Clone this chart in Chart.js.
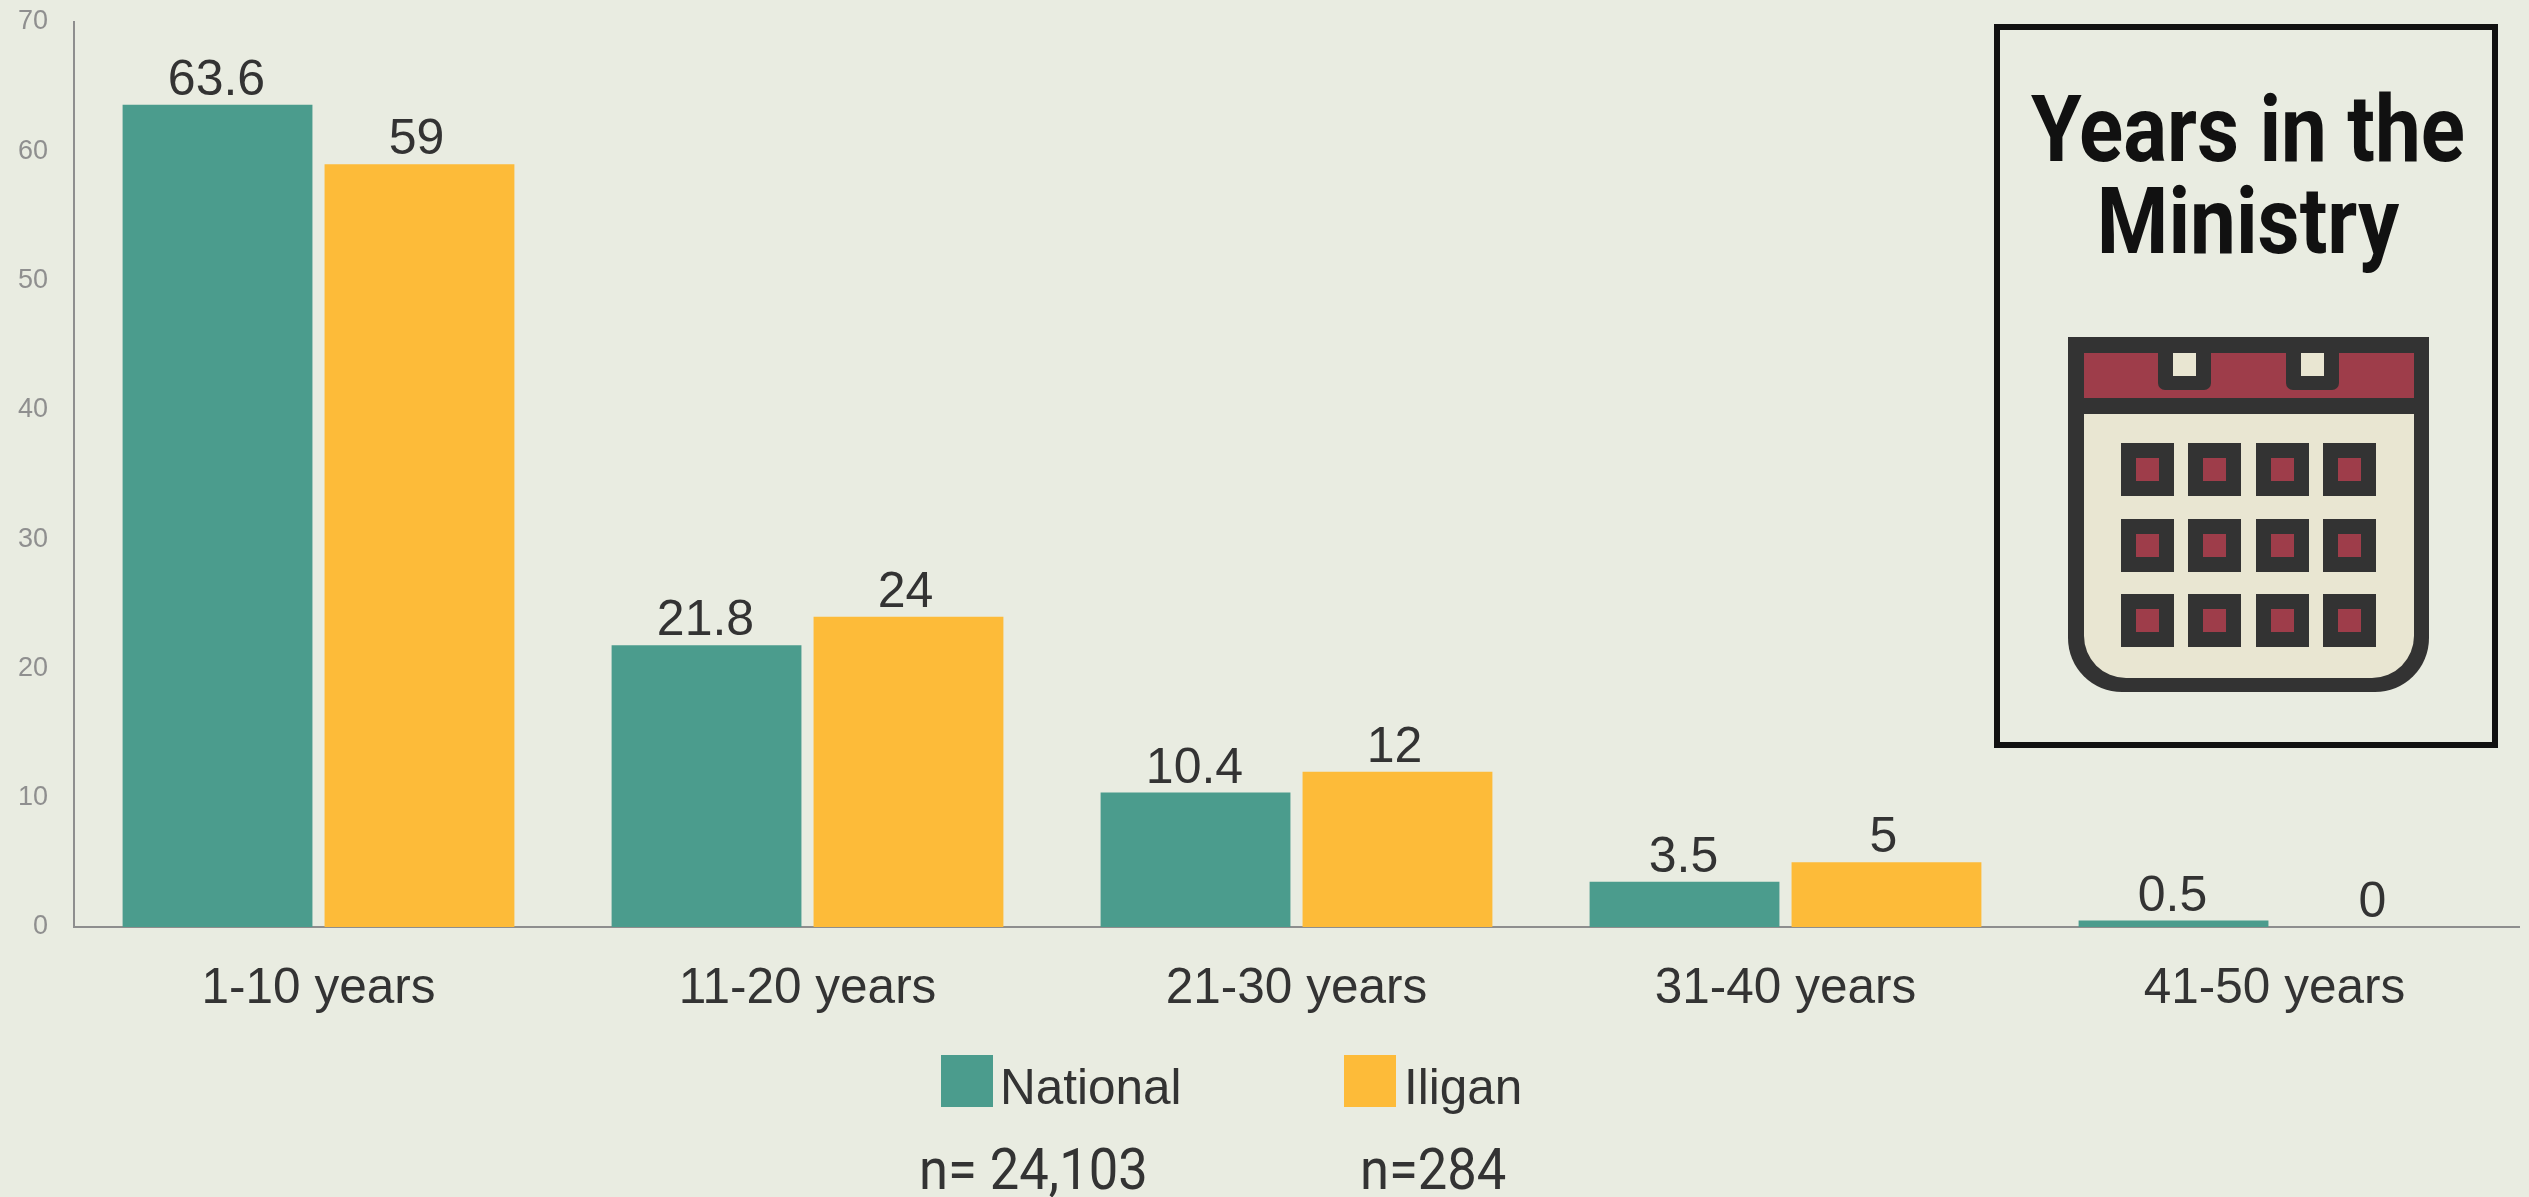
<!DOCTYPE html>
<html>
<head>
<meta charset="utf-8">
<title>Years in the Ministry</title>
<script src="https://cdn.jsdelivr.net/npm/chart.js@4/dist/chart.umd.min.js"></script>
<style>
    html, body { margin: 0; padding: 0; background: #e9ece1; overflow: hidden; }
    #page { position: relative; width: 2529px; height: 1197px; background: #e9ece1; }
    #chart { position: absolute; left: 0; top: 0; }
    .swatch { position: absolute; top: 1055px; width: 52px; height: 52px; }
    .legend-text, .count-text, .title-line { position: absolute; white-space: nowrap; line-height: 1; }
    .legend-text { top: 1062px; font: 49.5px/1 "Liberation Sans", Arial, sans-serif; color: #333; }
    .count-text { top: 1140px; font: 58px/1 Roboto, sans-serif; color: #333; transform-origin: left top; transform: scaleX(0.905); }
    #panel { position: absolute; left: 1994px; top: 24px; width: 492px; height: 712px; border: 6px solid #111; }
    .title-line { left: 1996px; width: 504px; text-align: center; font: bold 93px/1 Roboto, sans-serif; color: #111; transform: scaleX(0.88); }
    #calendar { position: absolute; left: 0; top: 0; }
</style>
</head>
<body>
<div id="page">
    <canvas id="chart" width="2529" height="1197"></canvas>
    <div id="panel"></div>
    <div class="title-line" style="top: 83px">Years in the</div>
    <div class="title-line" style="top: 175px">Ministry</div>
    <svg id="calendar" width="2529" height="1197" xmlns="http://www.w3.org/2000/svg"></svg>
</div>

<script>
// Chart data
const categories = ['1-10 years', '11-20 years', '21-30 years', '31-40 years', '41-50 years'];
const seriesNames = ['National', 'Iligan'];
const nationalValues = [63.6, 21.8, 10.4, 3.5, 0.5];
const iliganValues = [59, 24, 12, 5, 0];
const sampleSizes = ['n= 24,103', 'n=284'];
const yMax = 70;
const yStep = 10;

const tealColor = '#4b9c8d';
const yellowColor = '#fdbb39';
const textColor = '#333333';
const axisColor = '#8e8e8e';

// Writes the value above every bar
const valueLabels = {
    id: 'valueLabels',
    afterDatasetsDraw(chart) {
        const ctx = chart.ctx;
        ctx.save();
        ctx.font = '50px "Liberation Sans", Arial, sans-serif';
        ctx.fillStyle = textColor;
        ctx.textAlign = 'center';
        ctx.textBaseline = 'alphabetic';
        chart.data.datasets.forEach((dataset, i) => {
            const shift = i === 0 ? 1 : 3; // labels sit a little left of the bar centre
            chart.getDatasetMeta(i).data.forEach((bar, j) => {
                ctx.fillText(String(dataset.data[j]), bar.x - shift, bar.y - 10);
            });
        });
        ctx.restore();
    }
};

new Chart(document.getElementById('chart').getContext('2d'), {
    type: 'bar',
    data: {
        labels: categories,
        datasets: [
            { label: seriesNames[0], data: nationalValues, backgroundColor: tealColor },
            { label: seriesNames[1], data: iliganValues, backgroundColor: yellowColor }
        ]
    },
    options: {
        responsive: false,
        animation: false,
        datasets: { bar: { categoryPercentage: 0.826, barPercentage: 0.94 } },
        layout: { padding: { top: 22, right: 10, bottom: 0, left: 0 } },
        plugins: { legend: { display: false }, tooltip: { enabled: false } },
        scales: {
            x: {
                grid: { display: false, drawTicks: false },
                border: { color: axisColor, width: 2 },
                ticks: {
                    color: textColor,
                    padding: 33,
                    maxRotation: 0,
                    font: { family: '"Liberation Sans", Arial, sans-serif', size: 49.5 }
                },
                afterFit(scale) { scale.height = 270; }
            },
            y: {
                min: 0,
                max: yMax,
                // tick padding would push the plot top down, so the gap comes from tickLength
                grid: { display: false, drawTicks: true, tickLength: 26, tickColor: 'transparent' },
                border: { color: axisColor, width: 2 },
                ticks: {
                    stepSize: yStep,
                    color: '#8f8f8f',
                    padding: 0,
                    font: { family: '"Liberation Sans", Arial, sans-serif', size: 27 }
                },
                afterFit(scale) { scale.width = 74; }
            }
        }
    },
    plugins: [valueLabels]
});

// Legend and sample sizes below the chart
const page = document.getElementById('page');
const swatchLeft = [941, 1344];
const legendTextLeft = [1000, 1404];
const countLeft = [919, 1360];

function addElement(className, left, text) {
    const el = document.createElement('div');
    el.className = className;
    el.style.left = left + 'px';
    if (text) el.textContent = text;
    page.appendChild(el);
    return el;
}

seriesNames.forEach((name, i) => {
    addElement('swatch', swatchLeft[i]).style.background = i === 0 ? tealColor : yellowColor;
    addElement('legend-text', legendTextLeft[i], name);
    addElement('count-text', countLeft[i], sampleSizes[i]);
});

// Calendar icon in the title panel
const svg = document.getElementById('calendar');
const darkColor = '#333333';
const redColor = '#9e3d4a';
const creamColor = '#e9e6d2';

function addRect(x, y, w, h, fill, rx) {
    const rect = document.createElementNS('http://www.w3.org/2000/svg', 'rect');
    rect.setAttribute('x', x);
    rect.setAttribute('y', y);
    rect.setAttribute('width', w);
    rect.setAttribute('height', h);
    rect.setAttribute('fill', fill);
    if (rx) rect.setAttribute('rx', rx);
    svg.appendChild(rect);
}

function addPath(d, fill) {
    const path = document.createElementNS('http://www.w3.org/2000/svg', 'path');
    path.setAttribute('d', d);
    path.setAttribute('fill', fill);
    svg.appendChild(path);
}

addPath('M2068 337H2429V638A54 54 0 0 1 2375 692H2122A54 54 0 0 1 2068 638Z', darkColor);
addPath('M2084 414H2414V636A42 42 0 0 1 2372 678H2126A42 42 0 0 1 2084 636Z', creamColor);
addRect(2084, 353, 330, 45, redColor);

[[2158, 2173], [2286, 2301]].forEach(tab => {
    addPath(`M${tab[0]} 353H${tab[0] + 53}V383A7 7 0 0 1 ${tab[0] + 46} 390H${tab[0] + 7}A7 7 0 0 1 ${tab[0]} 383Z`, darkColor);
    addRect(tab[1], 353, 23, 23, creamColor);
});

[2121, 2188, 2256, 2323].forEach(x => {
    [443, 519, 594].forEach(y => {
        addRect(x, y, 53, 53, darkColor);
        addRect(x + 15, y + 15, 23, 23, redColor);
    });
});
</script>
</body>
</html>
